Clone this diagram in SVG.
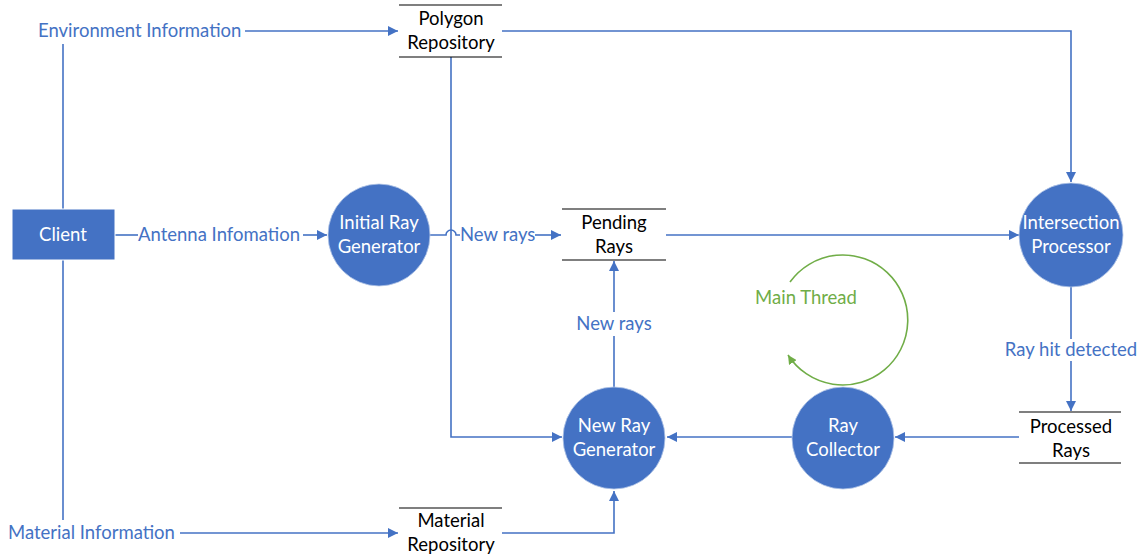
<svg xmlns="http://www.w3.org/2000/svg" width="1147" height="558" viewBox="0 0 1147 558">
  <defs>
    <marker id="arr" viewBox="0 0 10 10" refX="10" refY="5" markerWidth="10" markerHeight="10" markerUnits="userSpaceOnUse" orient="auto">
      <path d="M0,0 L10,5 L0,10 z" fill="#4472C4"/>
    </marker>
    <marker id="arrG" viewBox="0 0 10 10" refX="10" refY="5" markerWidth="9" markerHeight="9" markerUnits="userSpaceOnUse" orient="auto">
      <path d="M0,0 L10,5 L0,10 z" fill="#70AD47"/>
    </marker>
  </defs>
  <style>
    .bg { fill: #ffffff; }
    .proc { fill: #4472C4; stroke: #B4C7E7; stroke-width: 0.8; }
    .ext { fill: #4472C4; stroke: #ffffff; stroke-width: 1; }
    .store { stroke: #000000; stroke-width: 1.2; }
    .wt { font-family: Lato, "Open Sans", sans-serif; font-size: 18.5px; fill: #ffffff; text-anchor: middle; }
    .bk { font-family: Lato, "Open Sans", sans-serif; font-size: 18.5px; fill: #000000; text-anchor: middle; }
    .lbl { font-family: Lato, "Open Sans", sans-serif; font-size: 18.5px; fill: #4472C4; }
    .flow { fill: none; stroke: #4472C4; stroke-width: 1.6; }
    .loop { fill: none; stroke: #70AD47; stroke-width: 1.6; }
  </style>
  <rect class="bg" x="0" y="0" width="1147" height="558"/>

  <!-- data flows -->
  <g id="connectors">
    <!-- client links to the information sources -->
    <path class="flow" d="M63,44 V209"/>
    <path class="flow" d="M63,260 V520"/>
    <path class="flow" d="M245,31 H398" marker-end="url(#arr)"/>
    <path class="flow" d="M180,533 H398" marker-end="url(#arr)"/>
    <path class="flow" d="M115,235 H138"/>
    <path class="flow" d="M303,235 H327" marker-end="url(#arr)"/>
    <!-- initial ray generator to pending rays, hopping over the polygon line -->
    <path class="flow" d="M430,235 H446 A5,5 0 0 1 456,235 H460"/>
    <path class="flow" d="M535,235 H561" marker-end="url(#arr)"/>
    <!-- polygon repository feeds -->
    <path class="flow" d="M502,31 H1071 V182" marker-end="url(#arr)"/>
    <path class="flow" d="M451,57 V437 H562" marker-end="url(#arr)"/>
    <!-- pending to intersection -->
    <path class="flow" d="M666,235 H1019" marker-end="url(#arr)"/>
    <!-- intersection to processed -->
    <path class="flow" d="M1071,287 V339"/>
    <path class="flow" d="M1071,361 V411" marker-end="url(#arr)"/>
    <!-- processed to collector to new ray generator -->
    <path class="flow" d="M1019,437 H895" marker-end="url(#arr)"/>
    <path class="flow" d="M792,437 H667" marker-end="url(#arr)"/>
    <!-- new ray generator back to pending -->
    <path class="flow" d="M614,388 V336"/>
    <path class="flow" d="M614,312 V261" marker-end="url(#arr)"/>
    <!-- material repository to new ray generator -->
    <path class="flow" d="M502,533 H614 V491" marker-end="url(#arr)"/>

    <!-- flow labels -->
    <text class="lbl" x="38" y="37">Environment Information</text>
    <text class="lbl" x="138" y="241">Antenna Infomation</text>
    <text class="lbl" x="460" y="241">New rays</text>
    <text class="lbl" x="614" y="330" text-anchor="middle">New rays</text>
    <text class="lbl" x="1071" y="356" text-anchor="middle">Ray hit detected</text>
    <text class="lbl" x="8" y="539">Material Information</text>
  </g>

  <!-- main thread loop -->
  <g id="main-thread">
    <path class="loop" d="M790,282 A65,65 0 1 1 788,355" marker-end="url(#arrG)"/>
    <text x="806" y="304" font-family="Lato, 'Open Sans', sans-serif" font-size="18.5" fill="#70AD47" text-anchor="middle">Main Thread</text>
  </g>

  <g id="client">
    <rect class="ext" x="12" y="209" width="103" height="51"/>
    <text class="wt" x="63" y="241">Client</text>
  </g>

  <g id="initial-ray-generator">
    <circle class="proc" cx="379" cy="235" r="51"/>
    <text class="wt" x="379" y="229">Initial Ray</text>
    <text class="wt" x="379" y="253">Generator</text>
  </g>

  <g id="intersection-processor">
    <circle class="proc" cx="1071" cy="235" r="52"/>
    <text class="wt" x="1071" y="229">Intersection</text>
    <text class="wt" x="1071" y="253">Processor</text>
  </g>

  <g id="ray-collector">
    <circle class="proc" cx="843" cy="438" r="51"/>
    <text class="wt" x="843" y="432">Ray</text>
    <text class="wt" x="843" y="456">Collector</text>
  </g>

  <g id="new-ray-generator">
    <circle class="proc" cx="614" cy="438" r="51"/>
    <text class="wt" x="614" y="432">New Ray</text>
    <text class="wt" x="614" y="456">Generator</text>
  </g>

  <g id="polygon-repository">
    <line class="store" x1="399" y1="5" x2="502" y2="5"/>
    <line class="store" x1="399" y1="57" x2="502" y2="57"/>
    <text class="bk" x="451" y="25">Polygon</text>
    <text class="bk" x="451" y="49">Repository</text>
  </g>

  <g id="pending-rays">
    <line class="store" x1="562" y1="209" x2="666" y2="209"/>
    <line class="store" x1="562" y1="260" x2="666" y2="260"/>
    <text class="bk" x="614" y="229">Pending</text>
    <text class="bk" x="614" y="253">Rays</text>
  </g>

  <g id="processed-rays">
    <line class="store" x1="1019" y1="412" x2="1121" y2="412"/>
    <line class="store" x1="1019" y1="463" x2="1121" y2="463"/>
    <text class="bk" x="1071" y="433">Processed</text>
    <text class="bk" x="1071" y="457">Rays</text>
  </g>

  <g id="material-repository">
    <line class="store" x1="399" y1="508" x2="502" y2="508"/>
    <text class="bk" x="451" y="527">Material</text>
    <text class="bk" x="451" y="551">Repository</text>
  </g>
</svg>
